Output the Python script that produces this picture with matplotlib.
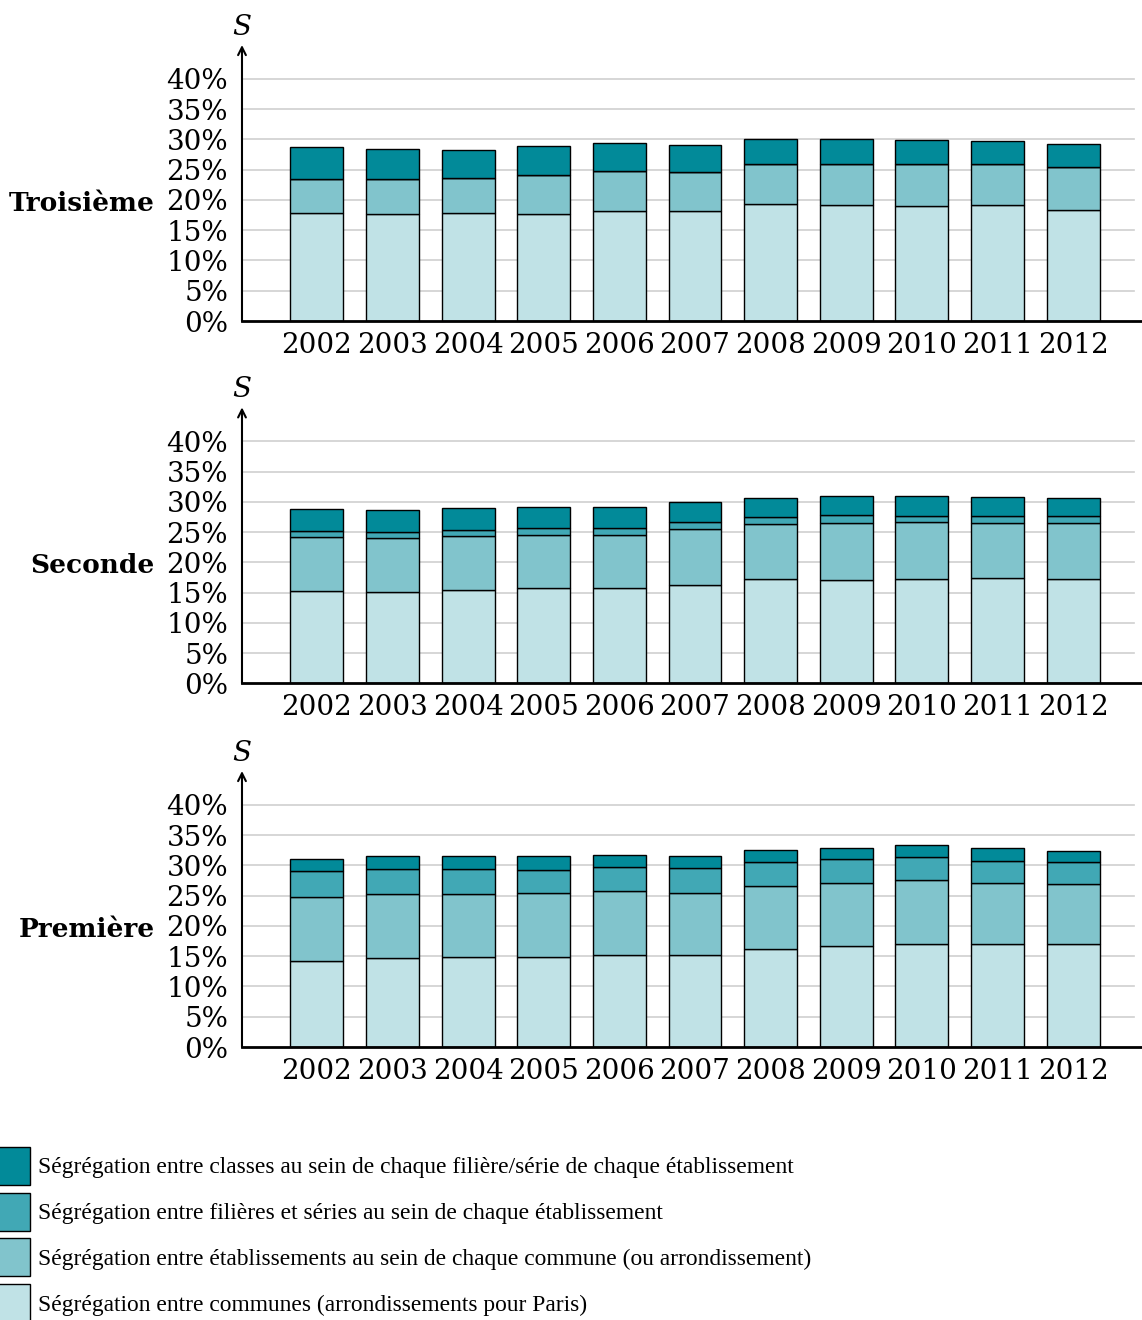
import numpy as np
import matplotlib
matplotlib.use("Agg")
import matplotlib.pyplot as plt
from matplotlib.patches import Rectangle

years = ["2002", "2003", "2004", "2005", "2006", "2007", "2008", "2009", "2010", "2011", "2012"]
levels = ["Troisième", "Seconde", "Première"]

# segment values in %, bottom to top
communes = {
    "Troisième": [17.9, 17.7, 17.9, 17.7, 18.2, 18.1, 19.3, 19.1, 19.0, 19.2, 18.3],
    "Seconde": [15.2, 15.1, 15.4, 15.75, 15.7, 16.3, 17.25, 17.1, 17.25, 17.35, 17.25],
    "Première": [14.2, 14.7, 14.8, 14.9, 15.2, 15.2, 16.2, 16.7, 17.1, 17.1, 17.1],
}
etablissements = {
    "Troisième": [5.6, 5.8, 5.8, 6.4, 6.6, 6.6, 6.6, 6.9, 6.9, 6.7, 7.1],
    "Seconde": [8.95, 8.9, 8.9, 8.75, 8.8, 9.2, 9.15, 9.4, 9.35, 9.15, 9.25],
    "Première": [10.6, 10.5, 10.4, 10.5, 10.5, 10.3, 10.4, 10.4, 10.5, 10.0, 9.8],
}
filieres = {
    "Troisième": [0, 0, 0, 0, 0, 0, 0, 0, 0, 0, 0],
    "Seconde": [0.95, 1.0, 1.0, 1.2, 1.1, 1.1, 1.1, 1.3, 1.1, 1.2, 1.1],
    "Première": [4.3, 4.2, 4.2, 3.9, 4.1, 4.1, 4.0, 3.9, 3.8, 3.7, 3.7],
}
classes = {
    "Troisième": [5.2, 5.0, 4.6, 4.8, 4.6, 4.3, 4.2, 4.0, 4.0, 3.8, 3.8],
    "Seconde": [3.75, 3.7, 3.6, 3.5, 3.5, 3.3, 3.2, 3.2, 3.2, 3.1, 3.1],
    "Première": [2.0, 2.2, 2.2, 2.2, 1.9, 2.0, 2.0, 1.9, 2.0, 2.0, 1.85],
}

legend_labels = [
    "Ségrégation entre classes au sein de chaque filière/série de chaque établissement",
    "Ségrégation entre filières et séries au sein de chaque établissement",
    "Ségrégation entre établissements au sein de chaque commune (ou arrondissement)",
    "Ségrégation entre communes (arrondissements pour Paris)",
]
colors = ["#028a99", "#41a8b5", "#81c4cc", "#c0e2e6"]  # classes, filieres, etab, communes

plt.rcParams["font.family"] = ["DejaVu Serif"]
plt.rcParams["mathtext.fontset"] = "dejavuserif"

fig = plt.figure(figsize=(11.42, 13.2), dpi=100)

bottoms = [0.7568, 0.4823, 0.2068]
height = 0.2091
x = np.arange(len(years))

for level, b in zip(levels, bottoms):
    ax = fig.add_axes([0.2119, b, 0.7881, height])
    series = [communes[level], etablissements[level], filieres[level], classes[level]]
    cols = colors[::-1]
    base = np.zeros(len(years))
    for vals, c in zip(series, cols):
        vals = np.array(vals, dtype=float)
        ax.bar(x, vals, bottom=base, width=0.70, color=c, edgecolor="black",
               linewidth=1.0, zorder=3)
        base += vals

    for g in range(5, 45, 5):
        ax.plot([-0.99, 10.8], [g, g], color="#cfcfcf", lw=1.2, zorder=1)

    ax.set_xlim(-0.99, 10.91)
    ax.set_ylim(0, 45.6)
    ax.set_yticks(range(0, 45, 5))
    ax.set_yticklabels([f"{v}%" for v in range(0, 45, 5)])
    ax.set_xticks(x)
    ax.set_xticklabels(years)
    ax.tick_params(axis="both", length=0, labelsize=20)
    ax.tick_params(axis="y", pad=10)
    ax.tick_params(axis="x", pad=8)
    for s in ["top", "right", "left"]:
        ax.spines[s].set_visible(False)
    ax.spines["bottom"].set_linewidth(2)
    ax.spines["bottom"].set_zorder(5)

    ax.annotate("", xy=(-0.99, 45.6), xytext=(-0.99, 0), xycoords="data",
                arrowprops=dict(arrowstyle="->", lw=1.5, color="black",
                                shrinkA=0, shrinkB=0, mutation_scale=14),
                annotation_clip=False, zorder=6)
    ax.text(-0.99, 46.3, "$S$", ha="center", va="bottom", fontsize=20)

    # row label, right edge at 155 px
    y_fig = b + height * 19.4 / 45.6
    fig.text(155 / 1142, y_fig, level, ha="right", va="center",
             fontsize=19, fontweight="bold")

# legend
lax = fig.add_axes([0, 0, 1, 1])
lax.set_xlim(0, 1142)
lax.set_ylim(1320, 0)
lax.axis("off")
row_y = [1166, 1212, 1257, 1303]
for yy, c, lab in zip(row_y, colors, legend_labels):
    lax.add_patch(Rectangle((-2, yy - 19), 32, 38, facecolor=c, edgecolor="black", lw=1))
    lax.text(38, yy + 2, lab, ha="left", va="center", fontsize=16.9,
             family=["Liberation Serif", "DejaVu Serif"])

fig.savefig("out.png", dpi=100)
